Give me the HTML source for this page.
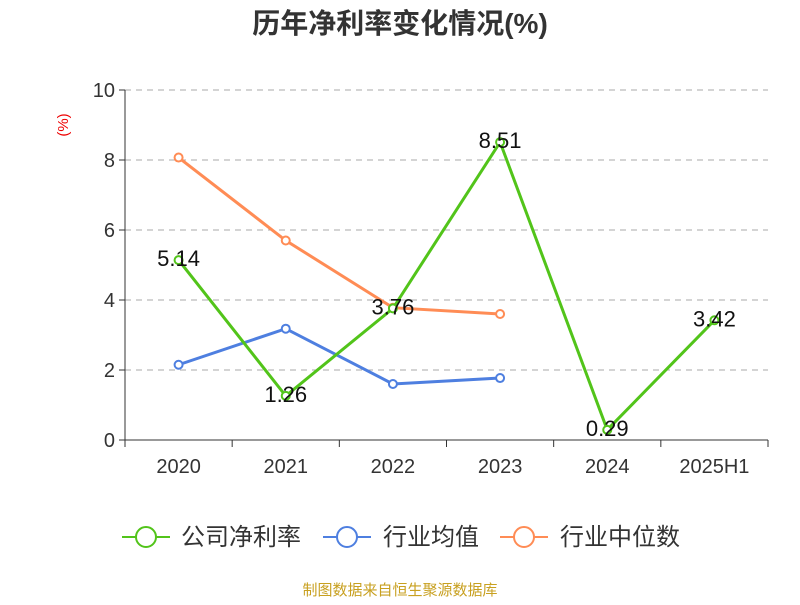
<!DOCTYPE html>
<html><head><meta charset="utf-8"><style>
body{margin:0;background:#fff;}
svg{font-family:"Liberation Sans","Noto Sans CJK SC",sans-serif;}
</style></head><body>
<svg id="c" width="800" height="600">
<text x="400" y="33" text-anchor="middle" font-size="28" font-weight="bold" fill="#333">历年净利率变化情况(%)</text>
<text x="68" y="125" transform="rotate(-90 68 125)" text-anchor="middle" font-size="15" fill="#e00">(%)</text>
<g id="grid"></g><g id="axes"></g><g id="series"></g>
<g>
<g><line x1="122" y1="537" x2="170" y2="537" stroke="#52c41a" stroke-width="2"/><circle cx="146" cy="537" r="10" fill="#fff" stroke="#52c41a" stroke-width="2"/><text x="181" y="545" font-size="24" fill="#333">公司净利率</text></g>
<g><line x1="323" y1="537" x2="371" y2="537" stroke="#4e7fe0" stroke-width="2"/><circle cx="347" cy="537" r="10" fill="#fff" stroke="#4e7fe0" stroke-width="2"/><text x="383" y="545" font-size="24" fill="#333">行业均值</text></g>
<g><line x1="500" y1="537" x2="548" y2="537" stroke="#ff8c55" stroke-width="2"/><circle cx="524" cy="537" r="10" fill="#fff" stroke="#ff8c55" stroke-width="2"/><text x="560" y="545" font-size="24" fill="#333">行业中位数</text></g>
</g>
<text x="400" y="595" text-anchor="middle" font-size="15" fill="#c8a020">制图数据来自恒生聚源数据库</text>
</svg>
<script>
const categories=["2020","2021","2022","2023","2024","2025H1"];
const companyValues=[5.14,1.26,3.76,8.51,0.29,3.42];
const avgValues=[2.15,3.18,1.6,1.77];
const medianValues=[8.07,5.7,3.78,3.6];
const yTicks=[0,2,4,6,8,10];
const NS="http://www.w3.org/2000/svg";
const x0=125,x1=768,yb=440,yt=90,yMax=10;
const bw=(x1-x0)/categories.length;
const X=i=>x0+bw*(i+0.5);
const Y=v=>yb-(v/yMax)*(yb-yt);
function mk(tag,attrs,parent){const e=document.createElementNS(NS,tag);for(const k in attrs)e.setAttribute(k,attrs[k]);document.getElementById(parent).appendChild(e);return e;}
yTicks.forEach(t=>{
  if(t>0){const g=mk('line',{x1:x0,x2:x1,y1:Y(t),y2:Y(t),stroke:'#aaa','stroke-dasharray':'6,5'},'grid');
  
  }
  const tk=mk('line',{x1:x0-6,x2:x0,y1:Y(t),y2:Y(t),stroke:'#333'},'axes');
  
  
  const l=mk('text',{x:x0-10,y:Y(t)+7,'text-anchor':'end','font-size':20,fill:'#333'},'axes');l.textContent=t;
  
  
});
const ya=mk('line',{x1:x0,x2:x0,y1:yt,y2:yb,stroke:'#333'},'axes');


const xa=mk('line',{x1:x0,x2:x1,y1:yb,y2:yb,stroke:'#333'},'axes');


for(let i=0;i<=categories.length;i++){const t=mk('line',{x1:x0+bw*i,x2:x0+bw*i,y1:yb,y2:yb+7,stroke:'#333'},'axes');

}
categories.forEach((c,i)=>{const l=mk('text',{x:X(i),y:473,'text-anchor':'middle','font-size':20,fill:'#333'},'axes');l.textContent=c;

});
function series(vals,color,name,labels){
  const p=mk('polyline',{points:vals.map((v,i)=>X(i)+','+Y(v)).join(' '),fill:'none',stroke:color,'stroke-width':3},'series');
  
  
  vals.forEach((v,i)=>{
    const c=mk('circle',{cx:X(i),cy:Y(v),r:4,fill:'#fff',stroke:color,'stroke-width':2},'series');
    
    
    if(labels){const t=mk('text',{x:X(i),y:Y(v)+6,'text-anchor':'middle','font-size':22,fill:'#111'},'series');t.textContent=v.toFixed(2);
    
    }
  });
}
series(avgValues,'#4e7fe0','industry-avg',false);
series(medianValues,'#ff8c55','industry-median',false);
series(companyValues,'#52c41a','company',true);
</script>
</body></html>
